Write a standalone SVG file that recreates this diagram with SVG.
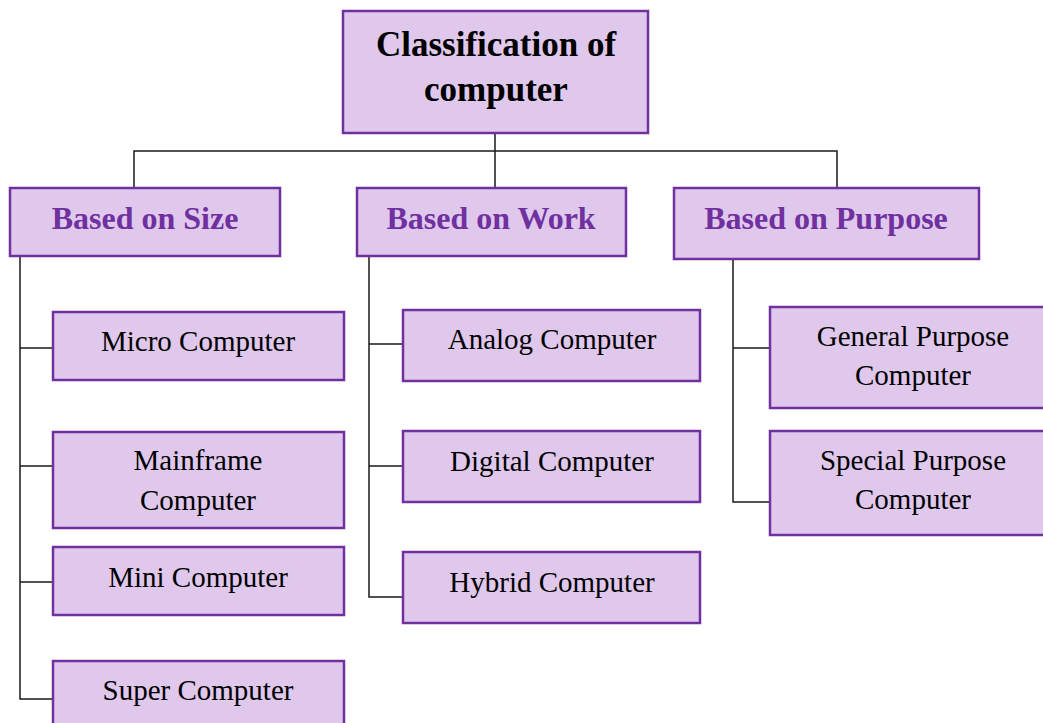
<svg xmlns="http://www.w3.org/2000/svg" width="1043" height="723" viewBox="0 0 1043 723">
<style>
.box{fill:#dfc8ec;stroke:#7030a0;stroke-width:2.5}
.t{font-family:"Liberation Serif","Times New Roman",serif;font-size:29px;fill:#000;text-anchor:middle}
.h{font-family:"Liberation Serif","Times New Roman",serif;font-size:32px;font-weight:bold;fill:#7030a0;text-anchor:middle}
.r{font-family:"Liberation Serif","Times New Roman",serif;font-size:35px;font-weight:bold;fill:#000;text-anchor:middle}
.c{fill:none;stroke:#1a1a1a;stroke-width:1.5}
</style>
<rect width="1043" height="723" fill="#fff"/>
<g id="connectors">
<path class="c" d="M495,133V188M134,188V151H837V188"/>
<path class="c" d="M20,256V699H53M20,348H53M20,466H53M20,582H53"/>
<path class="c" d="M369,256V597H403M369,344H403M369,466H403"/>
<path class="c" d="M733,259V502H770M733,348H770"/>
</g>
<g id="root"><rect class="box" x="343" y="11" width="305" height="122"/><text class="r" x="496" y="56">Classification of</text><text class="r" x="496" y="101">computer</text></g>
<g id="size"><rect class="box" x="10" y="188" width="270" height="68"/><text class="h" x="145" y="229">Based on Size</text></g>
<g id="work"><rect class="box" x="357" y="188" width="269" height="68"/><text class="h" x="491" y="229">Based on Work</text></g>
<g id="purpose"><rect class="box" x="674" y="188" width="305" height="71"/><text class="h" x="826" y="229">Based on Purpose</text></g>
<g id="micro"><rect class="box" x="53" y="312" width="291" height="68"/><text class="t" x="198" y="351">Micro Computer</text></g>
<g id="mainframe"><rect class="box" x="53" y="432" width="291" height="96"/><text class="t" x="198" y="470">Mainframe</text><text class="t" x="198" y="510">Computer</text></g>
<g id="mini"><rect class="box" x="53" y="547" width="291" height="68"/><text class="t" x="198" y="587">Mini Computer</text></g>
<g id="super"><rect class="box" x="53" y="661" width="291" height="80"/><text class="t" x="198" y="700">Super Computer</text></g>
<g id="analog"><rect class="box" x="403" y="310" width="297" height="71"/><text class="t" x="552" y="349">Analog Computer</text></g>
<g id="digital"><rect class="box" x="403" y="431" width="297" height="71"/><text class="t" x="552" y="471">Digital Computer</text></g>
<g id="hybrid"><rect class="box" x="403" y="552" width="297" height="71"/><text class="t" x="552" y="592">Hybrid Computer</text></g>
<g id="general"><rect class="box" x="770" y="307" width="286" height="101"/><text class="t" x="913" y="346">General Purpose</text><text class="t" x="913" y="385">Computer</text></g>
<g id="special"><rect class="box" x="770" y="431" width="286" height="104"/><text class="t" x="913" y="470">Special Purpose</text><text class="t" x="913" y="509">Computer</text></g>
</svg>
